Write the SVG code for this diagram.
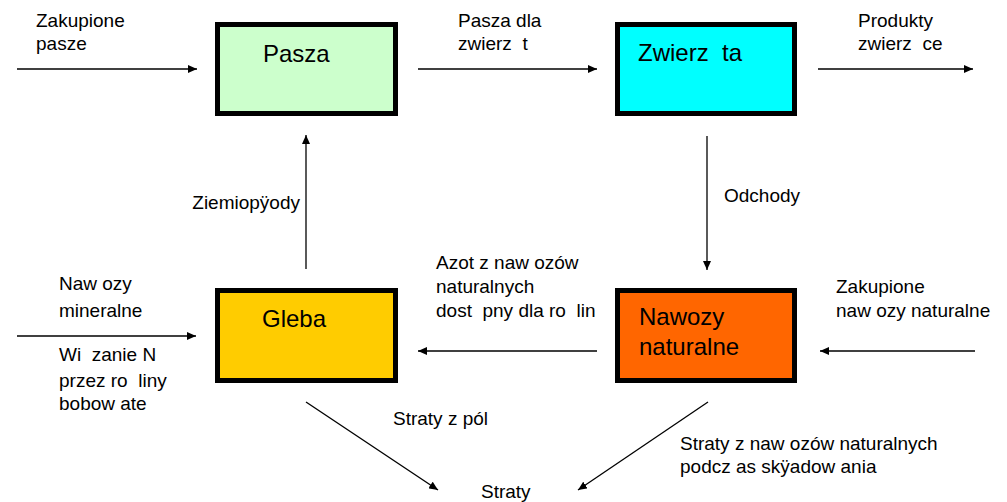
<svg xmlns="http://www.w3.org/2000/svg" width="1007" height="502" viewBox="0 0 1007 502">
<style>
text{font-family:"Liberation Sans",Arial,sans-serif;fill:#000;white-space:pre}
.s{font-size:19px}
.b{font-size:24px}
.box{stroke:#000;stroke-width:5}
.c line{stroke:#000;stroke-width:1.3;marker-end:url(#ah)}
</style>
<defs>
<marker id="ah" markerUnits="userSpaceOnUse" markerWidth="10" markerHeight="8" refX="9" refY="4" orient="auto">
<path d="M0,0 L9,4 L0,8 z" fill="#000"/>
</marker>
</defs>
<rect width="1007" height="502" fill="#fff"/>
<g id="pasza">
<rect class="box" x="217.5" y="24.5" width="178" height="89" fill="#CCFFCC"/>
<text class="b" x="263" y="62">Pasza</text>
</g>
<g id="zwierzeta">
<rect class="box" x="617.5" y="24.5" width="177" height="89" fill="#00FFFF"/>
<text class="b" x="638" y="61">Zwierz  ta</text>
</g>
<g id="gleba">
<rect class="box" x="217.5" y="290.5" width="178" height="90" fill="#FFCC00"/>
<text class="b" x="262" y="327">Gleba</text>
</g>
<g id="nawozy">
<rect class="box" x="617.5" y="290.5" width="177" height="90" fill="#FF6600"/>
<text class="b" x="639" y="325">Nawozy</text>
<text class="b" x="639" y="355">naturalne</text>
</g>
<g id="straty">
<text class="s" x="481" y="498">Straty</text>
</g>
<g class="c" id="connectors">
<line x1="17" y1="69" x2="197" y2="69"/>
<line x1="418" y1="69" x2="597" y2="69"/>
<line x1="818" y1="69" x2="973" y2="69"/>
<line x1="306" y1="269" x2="306" y2="135"/>
<line x1="707" y1="136" x2="707" y2="270"/>
<line x1="17" y1="336" x2="196" y2="336"/>
<line x1="597" y1="351" x2="418" y2="351"/>
<line x1="975" y1="351" x2="820" y2="351"/>
<line x1="306" y1="402" x2="438" y2="490"/>
<line x1="708" y1="402" x2="578" y2="490"/>
</g>
<g id="labels">
<text class="s" x="36" y="27">Zakupione</text>
<text class="s" x="36" y="50">pasze</text>
<text class="s" x="458" y="27">Pasza dla</text>
<text class="s" x="458" y="50">zwierz  t</text>
<text class="s" x="858" y="27">Produkty</text>
<text class="s" x="858" y="50">zwierz  ce</text>
<text class="s" x="300" y="209" text-anchor="end">Ziemiopÿody</text>
<text class="s" x="724" y="202">Odchody</text>
<text class="s" x="436" y="269">Azot z naw ozów</text>
<text class="s" x="436" y="293">naturalnych</text>
<text class="s" x="436" y="317">dost  pny dla ro  lin</text>
<text class="s" x="836" y="293">Zakupione</text>
<text class="s" x="836" y="317">naw ozy naturalne</text>
<text class="s" x="59" y="290">Naw ozy</text>
<text class="s" x="59" y="317">mineralne</text>
<text class="s" x="59" y="361">Wi  zanie N</text>
<text class="s" x="59" y="387">przez ro  liny</text>
<text class="s" x="59" y="410">bobow ate</text>
<text class="s" x="393" y="425">Straty z pól</text>
<text class="s" x="680" y="450">Straty z naw ozów naturalnych</text>
<text class="s" x="680" y="473">podcz as skÿadow ania</text>
</g>
</svg>
